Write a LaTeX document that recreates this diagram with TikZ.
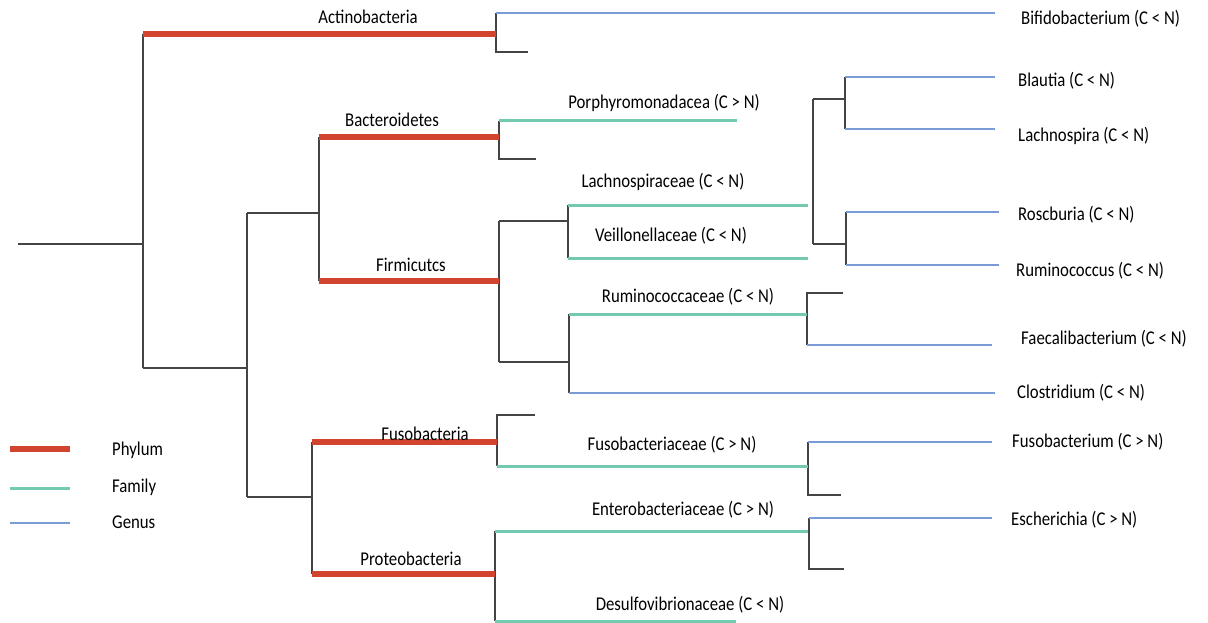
\documentclass[tikz,border=0pt]{standalone}
\usepackage{fontspec}
\setmainfont{Carlito}[FakeStretch=0.86]
\definecolor{phy}{HTML}{D24430}
\definecolor{fam}{HTML}{72CBB0}
\definecolor{gen}{HTML}{7A9CD6}
\definecolor{brn}{HTML}{444444}
\tikzset{
  branch/.style={draw=brn, line width=1.5pt},
  phylum/.style={draw=phy, line width=5.5pt},
  family/.style={draw=fam, line width=3pt},
  genus/.style={draw=gen, line width=1.4pt},
  lbl/.style={font=\fontsize{19.5}{22}\selectfont, inner sep=0pt, text=black},
  glbl/.style={lbl, anchor=west},
}
\begin{document}
\begin{tikzpicture}[x=1pt,y=-1pt]
\useasboundingbox (0,0) rectangle (1208,623);
% coordinates
\coordinate (root) at (18,244);
\coordinate (r0) at (143,244);
\coordinate (r0top) at (143,34);
\coordinate (r0bot) at (143,368);
\coordinate (actEnd) at (496,34);
\coordinate (a1) at (496,13);
\coordinate (a2) at (496,52);
\coordinate (bifEnd) at (995,13);
\coordinate (a2end) at (528,52);
\coordinate (n1) at (247,368);
\coordinate (n1top) at (247,213);
\coordinate (n1bot) at (247,497);
\coordinate (n2) at (319,213);
\coordinate (n2top) at (319,137);
\coordinate (n2bot) at (319,281);
\coordinate (bacEnd) at (499,137);
\coordinate (b1) at (499,121);
\coordinate (b2) at (499,159);
\coordinate (porEnd) at (737,121);
\coordinate (b2end) at (536,159);
\coordinate (firEnd) at (499,281);
\coordinate (f1) at (499,221);
\coordinate (f2) at (499,362);
\coordinate (f1h) at (568,221);
\coordinate (f1a) at (568,205);
\coordinate (f1b) at (568,258);
\coordinate (lachEnd) at (808,205);
\coordinate (veilEnd) at (808,258);
\coordinate (g1) at (813,99);
\coordinate (g2) at (813,244);
\coordinate (g1h) at (845,99);
\coordinate (g1a) at (845,77);
\coordinate (g1b) at (845,129);
\coordinate (blEnd) at (995,77);
\coordinate (lnEnd) at (995,129);
\coordinate (g2h) at (846,244);
\coordinate (g2a) at (846,212);
\coordinate (g2b) at (846,265);
\coordinate (roEnd) at (999,212);
\coordinate (ruEnd) at (999,265);
\coordinate (f2h) at (569,362);
\coordinate (f2a) at (569,314);
\coordinate (f2b) at (569,393);
\coordinate (rumcEnd) at (807,314);
\coordinate (closEnd) at (995,393);
\coordinate (rc1) at (807,293);
\coordinate (rc1end) at (843,293);
\coordinate (rc2) at (807,345);
\coordinate (faeEnd) at (992,345);
\coordinate (n3) at (312,497);
\coordinate (n3top) at (312,442);
\coordinate (n3bot) at (312,574);
\coordinate (fusEnd) at (497,442);
\coordinate (fu1) at (497,415);
\coordinate (fu1end) at (535,415);
\coordinate (fu2) at (497,466);
\coordinate (fuscEnd) at (808,466);
\coordinate (fc1) at (808,442);
\coordinate (fc2) at (808,495);
\coordinate (fbEnd) at (992,442);
\coordinate (fc2end) at (841,495);
\coordinate (proEnd) at (495,574);
\coordinate (p1) at (495,531);
\coordinate (p2) at (495,621);
\coordinate (entEnd) at (808,531);
\coordinate (desEnd) at (736,621);
\coordinate (e1) at (809,518);
\coordinate (e2) at (809,569);
\coordinate (escEnd) at (992,518);
\coordinate (e2end) at (844,569);
% legend coordinates
\coordinate (lp1) at (10,449); \coordinate (lp2) at (70,449);
\coordinate (lf1) at (10,488); \coordinate (lf2) at (70,488);
\coordinate (lg1) at (10,523); \coordinate (lg2) at (70,523);

% black branches
\draw[branch] (root) -- (r0);
\draw[branch] (r0top) -- (r0bot);
\draw[branch] (r0bot) -- (n1);
\draw[branch] (n1top) -- (n1bot);
\draw[branch] (n1top) -- (n2);
\draw[branch] (n2top) -- (n2bot);
\draw[branch] (n1bot) -- (n3);
\draw[branch] (n3top) -- (n3bot);
\draw[branch] (a1) -- (a2) -- (a2end);
\draw[branch] (b1) -- (b2) -- (b2end);
\draw[branch] (f1) -- (f2);
\draw[branch] (f1) -- (f1h);
\draw[branch] (f1a) -- (f1b);
\draw[branch] (f2) -- (f2h);
\draw[branch] (f2a) -- (f2b);
\draw[branch] (g1) -- (g2);
\draw[branch] (g1) -- (g1h);
\draw[branch] (g1a) -- (g1b);
\draw[branch] (g2) -- (g2h);
\draw[branch] (g2a) -- (g2b);
\draw[branch] (rc1end) -- (rc1) -- (rc2);
\draw[branch] (fu1end) -- (fu1) -- (fu2);
\draw[branch] (fc1) -- (fc2) -- (fc2end);
\draw[branch] (p1) -- (p2);
\draw[branch] (e1) -- (e2) -- (e2end);

% phylum
\draw[phylum] (r0top) -- (actEnd);
\draw[phylum] (n2top) -- (bacEnd);
\draw[phylum] (n2bot) -- (firEnd);
\draw[phylum] (n3top) -- (fusEnd);
\draw[phylum] (n3bot) -- (proEnd);
% family
\draw[family] (b1) -- (porEnd);
\draw[family] (f1a) -- (lachEnd);
\draw[family] (f1b) -- (veilEnd);
\draw[family] (f2a) -- (rumcEnd);
\draw[family] (fu2) -- (fuscEnd);
\draw[family] (p1) -- (entEnd);
\draw[family] (p2) -- (desEnd);
% genus
\draw[genus] (a1) -- (bifEnd);
\draw[genus] (g1a) -- (blEnd);
\draw[genus] (g1b) -- (lnEnd);
\draw[genus] (g2a) -- (roEnd);
\draw[genus] (g2b) -- (ruEnd);
\draw[genus] (rc2) -- (faeEnd);
\draw[genus] (f2b) -- (closEnd);
\draw[genus] (fc1) -- (fbEnd);
\draw[genus] (e1) -- (escEnd);

% phylum labels
\node[lbl] (tAct) at (368,17) {Actinobacteria};
\node[lbl] (tBac) at (392,120) {Bacteroidetes};
\node[lbl] (tFir) at (411,265) {Firmicutcs};
\node[lbl] (tFus) at (425,434) {Fusobacteria};
\node[lbl] (tPro) at (411,559) {Proteobacteria};
% family labels
\node[lbl] (tPor) at (664,103) {Porphyromonadacea (C > N)};
\node[lbl] (tLac) at (663,182) {Lachnospiraceae (C < N)};
\node[lbl] (tVei) at (671,236) {Veillonellaceae (C < N)};
\node[lbl] (tRum) at (688,297) {Ruminococcaceae (C < N)};
\node[lbl] (tFsc) at (672,445) {Fusobacteriaceae (C > N)};
\node[lbl] (tEnt) at (683,510) {Enterobacteriaceae (C > N)};
\node[lbl] (tDes) at (690,605) {Desulfovibrionaceae (C < N)};
% genus labels
\node[glbl] (tBif) at (1021,19) {Bifidobacterium (C < N)};
\node[glbl] (tBla) at (1018,81) {Blautia (C < N)};
\node[glbl] (tLna) at (1018,136) {Lachnospira (C < N)};
\node[glbl] (tRos) at (1018,215) {Roscburia (C < N)};
\node[glbl] (tRmc) at (1016,271) {Ruminococcus (C < N)};
\node[glbl] (tFae) at (1021,339) {Faecalibacterium (C < N)};
\node[glbl] (tClo) at (1017,393) {Clostridium (C < N)};
\node[glbl] (tFub) at (1012,442) {Fusobacterium (C > N)};
\node[glbl] (tEsc) at (1011,520) {Escherichia (C > N)};

% legend
\draw[phylum] (lp1) -- (lp2);
\draw[family] (lf1) -- (lf2);
\draw[genus] (lg1) -- (lg2);
\node[glbl] (tPhy) at (112,450) {Phylum};
\node[glbl] (tFam) at (112,487) {Family};
\node[glbl] (tGen) at (112,522) {Genus};
\end{tikzpicture}
\end{document}
